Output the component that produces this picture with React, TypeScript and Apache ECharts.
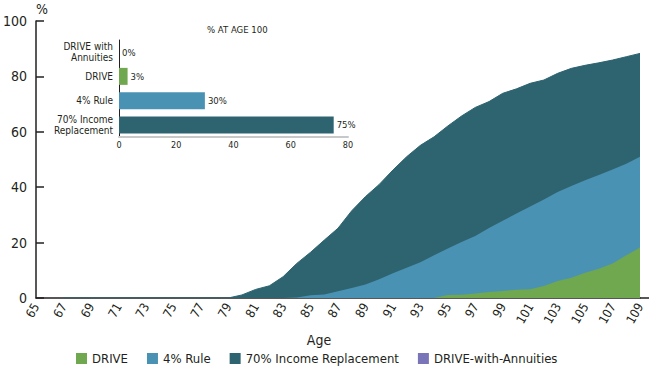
import React, { useEffect, useRef } from "react";
import * as echarts from "echarts";

const ages = [
  "65", "66", "67", "68", "69", "70", "71", "72", "73", "74", "75", "76", "77", "78", "79",
  "80", "81", "82", "83", "84", "85", "86", "87", "88", "89", "90", "91", "92", "93", "94",
  "95", "96", "97", "98", "99", "100", "101", "102", "103", "104", "105", "106", "107", "108", "109",
];

// ages 65..109
const incomeReplacement = [
  null, null, 0, 0, 0, 0, 0, 0, 0, 0, 0, 0, 0, 0, 0,
  1.1, 3.1, 4.4, 7.7, 12.5, 16.5, 20.9, 25.2, 31.5, 36.6, 41, 46.2, 51, 55.1, 58.2,
  62.1, 65.7, 68.8, 70.9, 73.9, 75.5, 77.5, 78.7, 81.1, 82.9, 84, 84.9, 85.9, 87.1, 88.3,
];
const fourPctRule = [
  null, null, 0, 0, 0, 0, 0, 0, 0, 0, 0, 0, 0, 0, 0,
  0, 0, 0, 0, 0.2, 1.0, 1.3, 2.4, 3.6, 4.9, 6.8, 8.9, 10.9, 12.9, 15.4,
  17.9, 20.2, 22.4, 25.3, 27.9, 30.5, 33, 35.6, 38.3, 40.4, 42.5, 44.4, 46.4, 48.5, 51,
];
const drive = [
  null, null, 0, 0, 0, 0, 0, 0, 0, 0, 0, 0, 0, 0, 0,
  0, 0, 0, 0, 0, 0, 0, 0, 0, 0, 0, 0, 0, 0, 0,
  1.1, 1.2, 1.6, 2.2, 2.5, 3.0, 3.2, 4.3, 6.1, 7.3, 9.1, 10.6, 12.5, 15.4, 18.2,
];
const driveAnnuities = [
  null, null, 0, 0, 0, 0, 0, 0, 0, 0, 0, 0, 0, 0, 0,
  0, 0, 0, 0, 0, 0, 0, 0, 0, 0, 0, 0, 0, 0, 0,
  0, 0, 0, 0, 0, 0, 0, 0, 0, 0, 0, 0, 0, 0, 0,
];

const insetCategories = ["DRIVE with\nAnnuities", "DRIVE", "4% Rule", "70% Income\nReplacement"];
const insetValues = [0, 3, 30, 75];

const seriesNames = ["DRIVE", "4% Rule", "70% Income Replacement", "DRIVE-with-Annuities"];
const COLORS = {
  drive: "#6fa84f",
  four: "#4a92b3",
  income: "#2e6470",
  annuities: "#7a74b8",
};
const insetColors = [COLORS.annuities, COLORS.drive, COLORS.four, COLORS.income];

const FONT = "'DejaVu Sans Condensed', 'Liberation Sans', sans-serif";
const TXT = "#231f20";

export default function App() {
  const ref = useRef<HTMLDivElement>(null);

  useEffect(() => {
    if (!ref.current) return;
    const chart = echarts.init(ref.current, undefined, { renderer: "svg" });

    const area = (name: string, data: (number | null)[], color: string, z: number, lineW: number) => ({
      name,
      type: "line",
      xAxisIndex: 0,
      yAxisIndex: 0,
      data,
      symbol: "none",
      z,
      itemStyle: { color },
      lineStyle: { width: lineW, color },
      areaStyle: { color, opacity: 1 },
    });

    chart.setOption({
      animation: false,
      textStyle: { fontFamily: FONT },
      title: {
        text: "% AT AGE 100",
        left: 202,
        top: 19,
        textStyle: { fontFamily: FONT, fontSize: 9.5, fontWeight: "normal", color: TXT },
      },
      legend: {
        data: seriesNames,
        left: 71,
        top: 347,
        icon: "rect",
        itemWidth: 11,
        itemHeight: 11,
        itemGap: 19,
        textStyle: { fontFamily: FONT, fontSize: 13, color: TXT },
        selectedMode: false,
      },
      grid: [
        { left: 32, top: 21, right: 9, bottom: 70 },
        { left: 119, top: 40, width: 229, height: 97 },
      ],
      xAxis: [
        {
          type: "category",
          gridIndex: 0,
          data: ages,
          boundaryGap: false,
          name: "Age",
          nameLocation: "middle",
          nameGap: 25,
          nameTextStyle: { fontFamily: FONT, fontSize: 14, color: TXT, padding: [0, 38, 0, 0] },
          axisLine: { lineStyle: { color: TXT, width: 1.5 } },
          axisTick: { show: false },
          axisLabel: {
            interval: 1,
            rotate: 60,
            margin: 6,
            fontSize: 12.5,
            color: TXT,
            fontFamily: FONT,
          },
          splitLine: { show: false },
        },
        {
          type: "value",
          gridIndex: 1,
          min: 0,
          max: 80,
          interval: 20,
          axisLine: { show: true, lineStyle: { color: "#c8c8c8", width: 2 } },
          axisTick: { show: false },
          axisLabel: { fontSize: 9, color: TXT, margin: 3, fontFamily: FONT },
          splitLine: { show: false },
        },
      ],
      yAxis: [
        {
          type: "value",
          gridIndex: 0,
          min: 0,
          max: 100,
          interval: 20,
          name: "%",
          nameLocation: "end",
          nameGap: 5,
          nameTextStyle: { fontFamily: FONT, fontSize: 14, color: TXT, align: "left" },
          axisLine: { show: true, lineStyle: { color: TXT, width: 1.5 } },
          axisTick: { show: true, inside: true, length: 8, lineStyle: { color: TXT, width: 1.5 } },
          axisLabel: { fontSize: 14, color: TXT, margin: 9, fontFamily: FONT },
          splitLine: { show: false },
        },
        {
          type: "category",
          gridIndex: 1,
          data: insetCategories,
          inverse: true,
          axisLine: { show: true, lineStyle: { color: TXT, width: 1 } },
          axisTick: { show: false },
          axisLabel: { fontSize: 10, lineHeight: 10.5, color: TXT, margin: 6, fontFamily: FONT },
          splitLine: { show: false },
        },
      ],
      graphic: [
        {
          type: "line",
          shape: { x1: 640, y1: 298, x2: 649, y2: 298 },
          style: { stroke: TXT, lineWidth: 1.5 },
        },
      ],
      series: [
        area(seriesNames[2], incomeReplacement, COLORS.income, 1, 1),
        area(seriesNames[1], fourPctRule, COLORS.four, 2, 0),
        area(seriesNames[0], drive, COLORS.drive, 3, 0),
        area(seriesNames[3], driveAnnuities, COLORS.annuities, 4, 0),
        {
          name: "% at age 100",
          type: "bar",
          xAxisIndex: 1,
          yAxisIndex: 1,
          barWidth: 17,
          z: 10,
          data: insetValues.map((v, i) => ({ value: v, itemStyle: { color: insetColors[i] } })),
          label: {
            show: true,
            position: "right",
            distance: 3,
            formatter: "{c}%",
            fontSize: 9.5,
            color: TXT,
            fontFamily: FONT,
          },
        },
      ],
    });

    return () => chart.dispose();
  }, []);

  return <div ref={ref} style={{ width: 649, height: 368, position: "absolute", left: 0, top: 0 }} />;
}
